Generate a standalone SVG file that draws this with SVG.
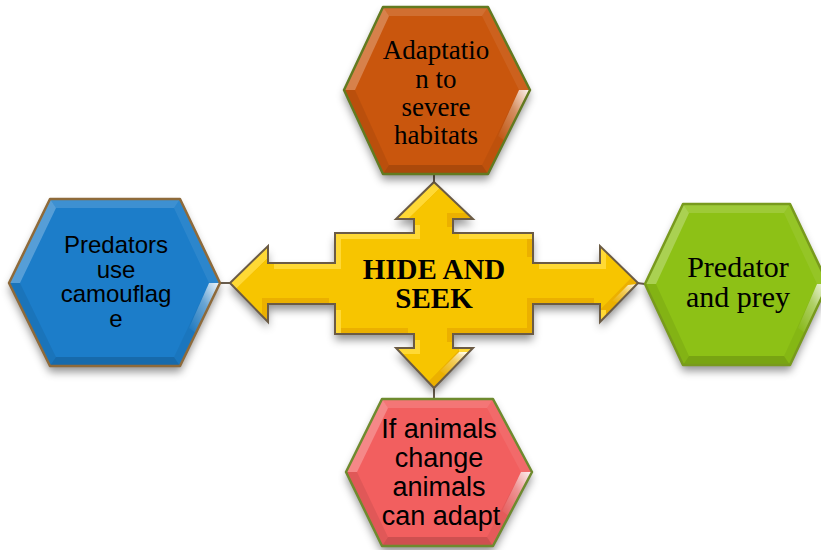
<svg xmlns="http://www.w3.org/2000/svg" xmlns:xlink="http://www.w3.org/1999/xlink" width="821" height="550" viewBox="0 0 821 550">
  <style>
    .serif { font-family: "Liberation Serif", "Times New Roman", serif; fill: #000; text-anchor: middle; }
    .sans { font-family: "Liberation Sans", Arial, sans-serif; fill: #000; text-anchor: middle; }
    .edge { fill: none; stroke-width: 2.5; stroke-linejoin: round; }
    .hi1 { fill: #fff; fill-opacity: 0.26; }
    .hi2 { fill: #fff; fill-opacity: 0.15; }
    .hi3 { fill: #fff; fill-opacity: 0.07; }
    .lo1 { fill: #000; fill-opacity: 0.05; }
    .lo2 { fill: #000; fill-opacity: 0.15; }
    .lo3 { fill: #000; fill-opacity: 0.07; }
    .glare { fill: url(#glare); }
    .link { stroke: #6a5e4e; stroke-width: 2; fill: none; }
  </style>
  <defs>
    <filter id="shadow" x="-20%" y="-20%" width="140%" height="150%">
      <feDropShadow dx="0" dy="6" stdDeviation="4" flood-color="#000" flood-opacity="0.42"/>
    </filter>
    <linearGradient id="glare" x1="1" y1="0" x2="0" y2="1">
      <stop offset="0" stop-color="#fff" stop-opacity="0.95"/>
      <stop offset="0.45" stop-color="#fff" stop-opacity="0.35"/>
      <stop offset="1" stop-color="#fff" stop-opacity="0"/>
    </linearGradient>
    <!-- four-way arrow hub -->
    <path id="cross" d="M434,182 L473,219 L453,219 L453,233 L533,233 L533,263 L600,263 L600,246 L638,283 L600,322 L600,304 L533,304 L533,334 L453,334 L453,348 L473,348 L434,388 L396,348 L414,348 L414,334 L335,334 L335,304 L268,304 L268,322 L230,283 L268,246 L268,263 L335,263 L335,233 L414,233 L414,219 L396,219 Z"/>
    <clipPath id="crossClip"><use xlink:href="#cross"/></clipPath>
    <clipPath id="crossInner"><use xlink:href="#cross" transform="translate(-6,-6)"/></clipPath>
  </defs>

  <!-- connectors between the hub arrows and the hexagons -->
  <g id="connectors">
    <line class="link" x1="434" y1="174" x2="434" y2="183"/>
    <line class="link" x1="220" y1="283" x2="231" y2="283"/>
    <line class="link" x1="637" y1="283" x2="645" y2="284"/>
    <line class="link" x1="434" y1="387" x2="434" y2="399"/>
  </g>

  <!-- hub -->
  <g id="hub">
    <use xlink:href="#cross" fill="#F6C400" filter="url(#shadow)"/>
    <g clip-path="url(#crossClip)">
      <rect x="220" y="170" width="430" height="230" fill="#FFD935"/>
      <use xlink:href="#cross" transform="translate(6,6)" fill="#EBB000"/>
      <g clip-path="url(#crossInner)">
        <use xlink:href="#cross" transform="translate(6,6)" fill="#F7C500"/>
      </g>
      <polygon points="637,284 619,303 612,301 628,285" class="glare"/>
      <polygon points="468,352 446,375 440,371 459,352" class="glare"/>
    </g>
    <use xlink:href="#cross" fill="none" stroke="#6b5b45" stroke-width="2" stroke-linejoin="miter"/>
    <text class="serif" x="434" y="279" font-size="29" font-weight="bold">HIDE AND</text>
    <text class="serif" x="434" y="308" font-size="29" font-weight="bold">SEEK</text>
  </g>

  <!-- top hexagon -->
  <g id="node-top">
    <polygon points="344,90 383,7 488,7 530,90 488,174 383,174" fill="#C9560C" filter="url(#shadow)"/>
    <polygon class="hi2" points="383,7 488,7 482,16 389,16"/>
    <polygon class="hi1" points="344,90 383,7 389,16 355,90"/>
    <polygon class="hi3" points="488,7 530,90 519,90 482,16"/>
    <polygon class="lo1" points="530,90 488,174 482,165 519,90"/>
    <polygon class="lo2" points="488,174 383,174 389,165 482,165"/>
    <polygon class="lo3" points="383,174 344,90 355,90 389,165"/>
    <polygon class="glare" points="530,90 505,141 498,136 519,90"/>
    <polygon class="edge" stroke="#627a20" points="344,90 383,7 488,7 530,90 488,174 383,174"/>
    <text class="serif" font-size="27" x="436" y="59">Adaptatio</text>
    <text class="serif" font-size="27" x="436" y="87.5">n to</text>
    <text class="serif" font-size="27" x="436" y="116">severe</text>
    <text class="serif" font-size="27" x="436" y="144">habitats</text>
  </g>

  <!-- left hexagon -->
  <g id="node-left">
    <polygon points="9,283 50,199 180,199 220,283 180,366 50,366" fill="#1F7DC9" filter="url(#shadow)"/>
    <polygon class="hi2" points="50,199 180,199 174,208 56,208"/>
    <polygon class="hi1" points="9,283 50,199 56,208 20,283"/>
    <polygon class="hi3" points="180,199 220,283 209,283 174,208"/>
    <polygon class="lo1" points="220,283 180,366 174,357 209,283"/>
    <polygon class="lo2" points="180,366 50,366 56,357 174,357"/>
    <polygon class="lo3" points="50,366 9,283 20,283 56,357"/>
    <polygon class="glare" points="220,283 196,333 189,328 209,283"/>
    <polygon class="edge" stroke="#8e6a3a" points="9,283 50,199 180,199 220,283 180,366 50,366"/>
    <text class="sans" font-size="24" x="116" y="253">Predators</text>
    <text class="sans" font-size="24" x="116" y="277.5">use</text>
    <text class="sans" font-size="24" x="116" y="302">camouflag</text>
    <text class="sans" font-size="24" x="116" y="326.5">e</text>
  </g>

  <!-- right hexagon -->
  <g id="node-right">
    <polygon points="645,284 683,204 790,204 828,284 790,365 683,365" fill="#8DC114" filter="url(#shadow)"/>
    <polygon class="hi2" points="683,204 790,204 784,213 689,213"/>
    <polygon class="hi1" points="645,284 683,204 689,213 656,284"/>
    <polygon class="hi3" points="790,204 828,284 817,284 784,213"/>
    <polygon class="lo1" points="828,284 790,365 784,356 817,284"/>
    <polygon class="lo2" points="790,365 683,365 689,356 784,356"/>
    <polygon class="lo3" points="683,365 645,284 656,284 689,356"/>
    <polygon class="glare" points="828,284 805,333 798,328 817,284"/>
    <polygon class="edge" stroke="#789a1c" points="645,284 683,204 790,204 828,284 790,365 683,365"/>
    <text class="serif" font-size="30" x="738" y="277">Predator</text>
    <text class="serif" font-size="30" x="738" y="307">and prey</text>
  </g>

  <!-- bottom hexagon -->
  <g id="node-bottom">
    <polygon points="346,472 382,399 493,399 532,472 493,546 382,546" fill="#F25E5E" filter="url(#shadow)"/>
    <polygon class="hi2" points="382,399 493,399 487,408 388,408"/>
    <polygon class="hi1" points="346,472 382,399 388,408 357,472"/>
    <polygon class="hi3" points="493,399 532,472 521,472 487,408"/>
    <polygon class="lo1" points="532,472 493,546 487,537 521,472"/>
    <polygon class="lo2" points="493,546 382,546 388,537 487,537"/>
    <polygon class="lo3" points="382,546 346,472 357,472 388,537"/>
    <polygon class="glare" points="532,472 509,516 502,511 521,472"/>
    <polygon class="edge" stroke="#6e8a2e" points="346,472 382,399 493,399 532,472 493,546 382,546"/>
    <text class="sans" font-size="27" x="439" y="438">If animals</text>
    <text class="sans" font-size="27" x="439" y="467">change</text>
    <text class="sans" font-size="27" x="439" y="496">animals</text>
    <text class="sans" font-size="27" x="441" y="525">can adapt</text>
  </g>
</svg>
